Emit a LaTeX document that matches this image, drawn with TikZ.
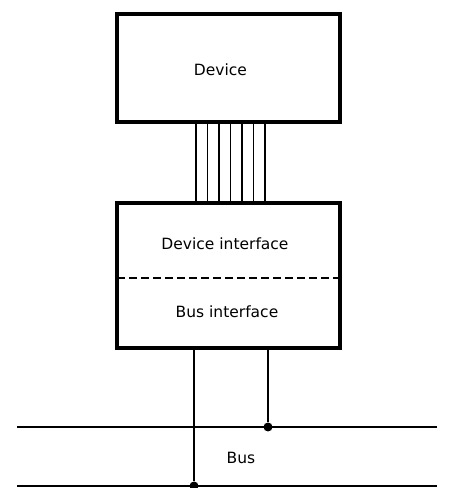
\documentclass[tikz,border=0pt]{standalone}
\usepackage{fontspec}
\setmainfont{DejaVu Sans}
\usepackage{tikz}
\usetikzlibrary{positioning, calc}

\begin{document}
\begin{tikzpicture}[x=1pt, y=1pt, outer sep=0pt,
    font=\fontsize{15.5}{18}\selectfont,
    unit/.style={draw, rectangle, line width=4.5pt, minimum width=223pt},
    wire/.style={line width=1.6pt},
    busline/.style={line width=1.3pt},
    tap/.style={circle, fill, inner sep=0pt, minimum size=9pt}]
    \useasboundingbox (0,0) rectangle (449,488);

    \node[unit, minimum height=108pt] (dev) at (228.5,420) {};
    \node[unit, minimum height=145pt, below=81pt of dev] (ifc) {};

    \node at ($(dev.center)+(-8,-2)$) (devtxt) {Device};
    \node at (225,244) (devifc) {Device interface};
    \node at (227,176) (busifc) {Bus interface};
    \draw[line width=2.2pt, dash pattern=on 8pt off 4pt] (ifc.west |- 0,210) -- (ifc.east |- 0,210);

    % parallel lines between the two boxes
    \foreach \i in {0,...,6}
        \draw[wire] ($(dev.south)+(-32.5+11.5*\i,0)$) -- ($(ifc.north)+(-32.5+11.5*\i,0)$);

    % the bus
    \coordinate (busAL) at (17,61);
    \coordinate (busAR) at (437,61);
    \coordinate (busBL) at (17,2);
    \coordinate (busBR) at (437,2);
    \draw[busline] (busAL) -- (busAR);
    \draw[busline] (busBL) -- (busBR);
    \node at (241,30) (bus) {Bus};

    \node[tap] (tapA) at (268,61) {};
    \node[tap] (tapB) at (194,2) {};
    \draw[wire] (ifc.south -| tapA) -- (tapA);
    \draw[wire] (ifc.south -| tapB) -- (tapB);
\end{tikzpicture}
\end{document}
